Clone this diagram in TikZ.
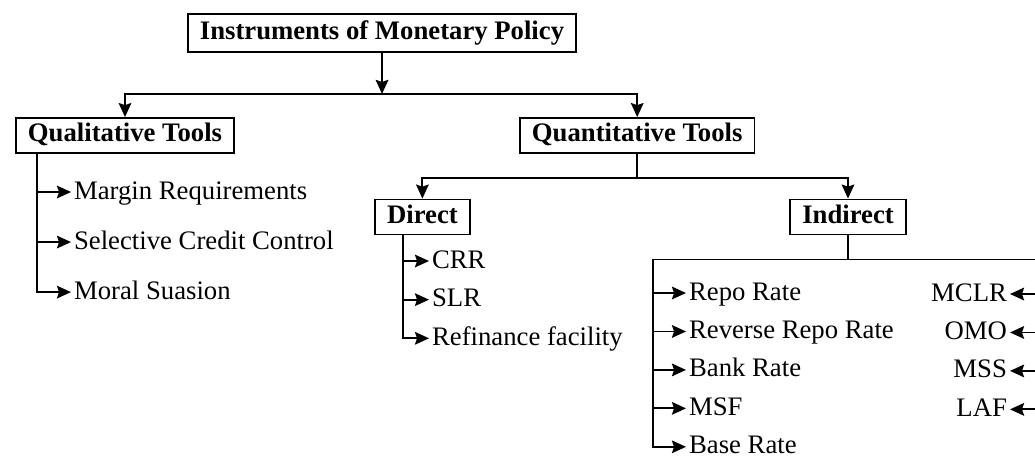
\documentclass[tikz,border=0pt]{standalone}
\usepackage{fontspec}
\setmainfont{Liberation Serif}
\usetikzlibrary{positioning,arrows.meta}
\tikzset{
  arrow/.style={-{Stealth[length=10pt,width=9pt,inset=1.5pt]}, line width=1.3pt},
  link/.style={line width=1.3pt},
  box/.style={
    draw,
    rectangle,
    line width=1.3pt,
    inner xsep=0.3cm,
    text height=13pt,
    text depth=4pt,
    minimum height=0.875cm,
    font=\fontsize{19}{23}\selectfont\bfseries
  },
  leaf/.style={
    inner sep=0pt,
    inner xsep=2pt,
    text height=13pt,
    text depth=3pt,
    font=\fontsize{19}{23}\selectfont
  }
}
\begin{document}
\begin{tikzpicture}
\useasboundingbox (0,0) rectangle (25.875,-11.4);

% Boxes
\node[box, minimum height=0.95cm] (top) at (9.55,-0.825) {Instruments of Monetary Policy};
\node[box] (qual) at (3.125,-3.3875) {Qualitative Tools};
\node[box] (quant) at (15.93,-3.3875) {Quantitative Tools};
\node[box] (direct) at (10.56,-5.425) {Direct};
\node[box] (indirect) at (21.2,-5.425) {Indirect};

% Qualitative items
\node[leaf, anchor=west] (margin) at (1.775,-4.8) {Margin Requirements};
\node[leaf, below=0.675cm of margin.south west, anchor=north west] (credit) {Selective Credit Control};
\node[leaf, below=0.675cm of credit.south west, anchor=north west] (moral) {Moral Suasion};

% Direct items
\node[leaf, anchor=west] (crr) at (10.725,-6.525) {CRR};
\node[leaf, below=0.39cm of crr.south west, anchor=north west] (slr) {SLR};
\node[leaf, below=0.39cm of slr.south west, anchor=north west] (refin) {Refinance facility};

% Indirect items, left
\node[leaf, anchor=west] (repo) at (17.15,-7.325) {Repo Rate};
\node[leaf, below=0.385cm of repo.south west, anchor=north west] (revrepo) {Reverse Repo Rate};
\node[leaf, below=0.385cm of revrepo.south west, anchor=north west] (bank) {Bank Rate};
\node[leaf, below=0.385cm of bank.south west, anchor=north west] (msf) {MSF};
\node[leaf, below=0.385cm of msf.south west, anchor=north west] (base) {Base Rate};

% Indirect items, right
\node[leaf, anchor=east] (mclr) at (25.25,-7.35) {MCLR};
\node[leaf, below=0.385cm of mclr.south east, anchor=north east] (omo) {OMO};
\node[leaf, below=0.385cm of omo.south east, anchor=north east] (mss) {MSS};
\node[leaf, below=0.385cm of mss.south east, anchor=north east] (laf) {LAF};

% Top split
\draw[arrow] (top.south) -- ++(0,-1.025) coordinate (j1);
\draw[arrow] (j1) -| (qual);
\draw[arrow] (j1) -| (quant);

% Quantitative split
\draw[link] (quant.south) -- ++(0,-0.6) coordinate (j2);
\draw[arrow] (j2) -| (direct);
\draw[arrow] (j2) -| (indirect);

% Qualitative list
\coordinate (qt) at ([xshift=0.55cm]qual.south west);
\draw[arrow] (qt) |- (moral);
\draw[arrow] (margin -| qt) -- (margin);
\draw[arrow] (credit -| qt) -- (credit);

% Direct list
\coordinate (dt) at ([xshift=0.725cm]direct.south west);
\draw[arrow] (dt) |- (refin);
\draw[arrow] (crr -| dt) -- (crr);
\draw[arrow] (slr -| dt) -- (slr);

% Indirect lists
\draw[link] (indirect.south) -- ++(0,-0.6) coordinate (j3);
\coordinate[left=4.875cm of j3] (lt);
\coordinate[right=4.675cm of j3] (rt);
\draw[link] (lt) -- (rt);
\draw[arrow] (lt) |- (base);
\draw[arrow] (repo -| lt) -- (repo);
\draw[arrow] (revrepo -| lt) -- (revrepo);
\draw[arrow] (bank -| lt) -- (bank);
\draw[arrow] (msf -| lt) -- (msf);

\draw[arrow] (mclr -| rt) -- (mclr);
\draw[arrow] (omo -| rt) -- (omo);
\draw[arrow] (mss -| rt) -- (mss);
\draw[arrow] (laf -| rt) -- (laf);

\end{tikzpicture}
\end{document}
